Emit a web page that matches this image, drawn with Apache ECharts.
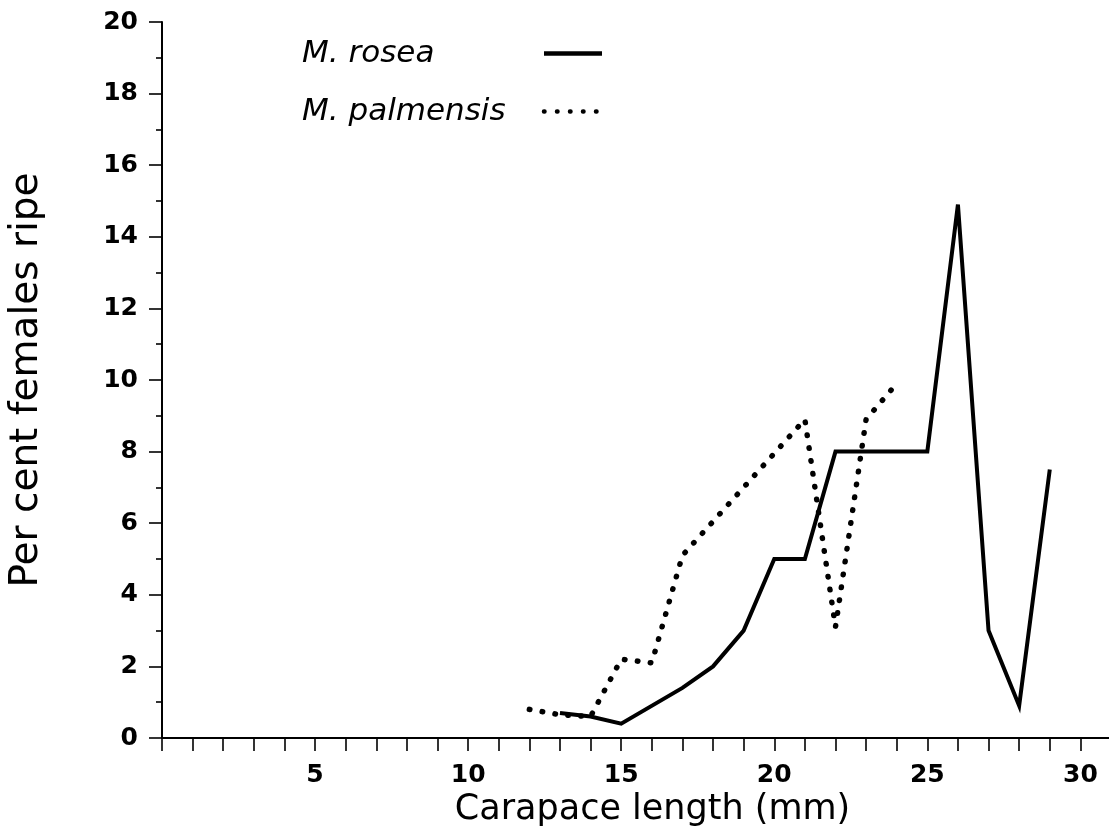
<!DOCTYPE html>
<html>
<head>
<meta charset="utf-8">
<script src="https://cdn.jsdelivr.net/npm/echarts@6/dist/echarts.min.js"></script>
<style>
  html, body { margin: 0; padding: 0; background: #fff; }
  #chart { width: 1109px; height: 839px; }
</style>
</head>
<body>
<div id="chart"></div>
<script>
// carapace length (mm) and per cent of females ripe
let roseaX = [13, 14, 15, 17, 18, 19, 20, 21, 22, 25, 26, 27, 28, 29];
let roseaY = [0.7, 0.6, 0.4, 1.4, 2.0, 3.0, 5.0, 5.0, 8.0, 8.0, 14.9, 3.0, 0.9, 7.5];

let palmX = [12, 13, 14, 15, 16, 17, 21, 22, 23, 24];
let palmY = [0.8, 0.65, 0.6, 2.2, 2.1, 5.1, 8.9, 3.1, 8.9, 9.9];

let seriesNames = ['M. rosea', 'M. palmensis'];

let font = 'DejaVu Sans';

let solidLine = { color: '#000', width: 4, join: 'miter' };
let dottedLine = { color: '#000', width: 5.5, type: [0.5, 12.5], cap: 'round' };

let pairs = (xs, ys) => xs.map((x, i) => [x, ys[i]]);

let myChart = echarts.init(document.getElementById('chart'), null, { renderer: 'canvas' });

let options = {
  backgroundColor: '#ffffff',
  animation: false,
  grid: { left: 162, top: 22, width: 949, height: 716, outerBoundsMode: 'none', containLabel: false },
  legend: {
    data: [
      { name: seriesNames[0], lineStyle: { width: 4.5 } },
      { name: seriesNames[1], lineStyle: { width: 4.5, type: [0.5, 12.5], cap: 'round' } },
    ],
    orient: 'vertical',
    align: 'right',
    left: 302,
    top: 38,
    padding: 0,
    itemGap: 27,
    itemWidth: 58,
    itemHeight: 14,
    selectedMode: false,
    itemStyle: { opacity: 0 },
    formatter: '{n|{name}}',
    textStyle: {
      fontFamily: font,
      fontStyle: 'italic',
      fontSize: 31,
      color: '#000',
      rich: {
        n: {
          width: 237,
          align: 'left',
          fontFamily: font,
          fontStyle: 'italic',
          fontSize: 31,
          lineHeight: 31,
          color: '#000',
        },
      },
    },
  },
  xAxis: {
    type: 'value',
    min: 0,
    max: 31,
    interval: 1,
    name: 'Carapace length (mm)',
    nameLocation: 'middle',
    nameGap: 54,
    nameTextStyle: { fontFamily: font, fontSize: 35, color: '#000', padding: [0, 0, 0, 32] },
    axisLine: { lineStyle: { color: '#000', width: 2 } },
    axisTick: { length: 13, lineStyle: { color: '#000', width: 1.6 } },
    axisLabel: {
      margin: 25,
      fontFamily: font,
      fontWeight: 'bold',
      fontSize: 25,
      color: '#000',
      formatter: (v) => (v > 0 && v % 5 === 0 ? String(v) : ''),
    },
    splitLine: { show: false },
  },
  yAxis: {
    type: 'value',
    min: 0,
    max: 20,
    interval: 2,
    name: 'Per cent females ripe',
    nameLocation: 'middle',
    nameGap: 116,
    nameTextStyle: { fontFamily: font, fontSize: 39, color: '#000' },
    axisLine: { show: true, lineStyle: { color: '#000', width: 2 } },
    axisTick: { show: true, length: 13, lineStyle: { color: '#000', width: 1.6 } },
    minorTick: { show: true, splitNumber: 2, length: 6, lineStyle: { color: '#000', width: 1.6 } },
    axisLabel: { margin: 24, fontFamily: font, fontWeight: 'bold', fontSize: 25, color: '#000' },
    splitLine: { show: false },
  },
  series: [
    {
      name: seriesNames[0],
      type: 'line',
      data: pairs(roseaX, roseaY),
      symbol: 'none',
      showSymbol: false,
      itemStyle: { color: '#000' },
      lineStyle: solidLine,
    },
    {
      name: seriesNames[1],
      type: 'line',
      data: pairs(palmX, palmY),
      symbol: 'none',
      showSymbol: false,
      itemStyle: { color: '#000' },
      lineStyle: dottedLine,
    },
  ],
};

myChart.setOption(options);
</script>
</body>
</html>
